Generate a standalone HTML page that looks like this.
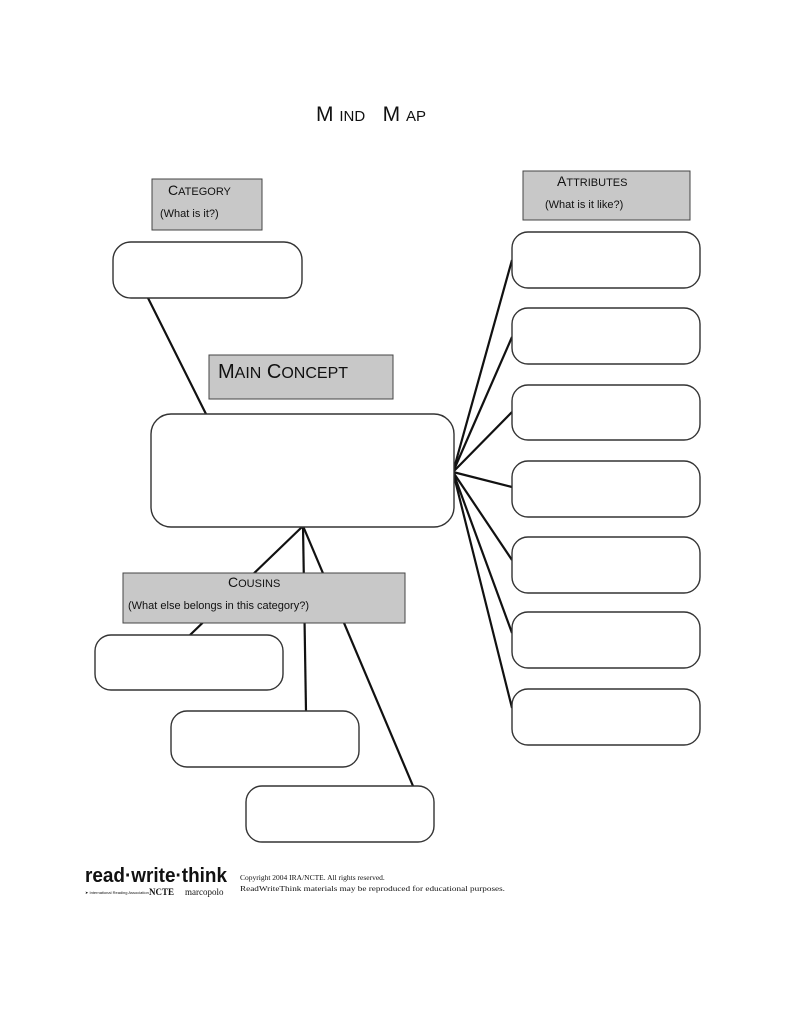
<!DOCTYPE html>
<html><head><meta charset="utf-8"><style>
html,body{margin:0;padding:0;background:#fff;}
svg{display:block;}
</style></head><body>
<svg width="811" height="1024" viewBox="0 0 811 1024" xmlns="http://www.w3.org/2000/svg" font-family="Liberation Sans, Arial, sans-serif" fill="#111">
<rect width="811" height="1024" fill="#fff"/>
<text x="316" y="121" font-size="21" xml:space="preserve">M <tspan font-size="15">IND</tspan>   M <tspan font-size="15">AP</tspan></text>
<g stroke="#111" stroke-width="2.2" fill="none">
<line x1="148" y1="298" x2="206" y2="414"/>
<line x1="453" y1="472" x2="512" y2="260"/>
<line x1="453" y1="472" x2="512" y2="337"/>
<line x1="453" y1="472" x2="512" y2="412"/>
<line x1="453" y1="472" x2="512" y2="487"/>
<line x1="453" y1="472" x2="512" y2="560"/>
<line x1="453" y1="472" x2="512" y2="633"/>
<line x1="453" y1="472" x2="512" y2="708"/>
<line x1="303" y1="526" x2="190" y2="635"/>
<line x1="303" y1="526" x2="306" y2="711"/>
<line x1="303" y1="526" x2="413" y2="786"/>
</g>
<g fill="#fff" stroke="#333" stroke-width="1.4">
<rect x="113" y="242" width="189" height="56" rx="18"/>
<rect x="151" y="414" width="303" height="113" rx="20"/>
<rect x="512" y="232" width="188" height="56" rx="16"/>
<rect x="512" y="308" width="188" height="56" rx="16"/>
<rect x="512" y="385" width="188" height="55" rx="16"/>
<rect x="512" y="461" width="188" height="56" rx="16"/>
<rect x="512" y="537" width="188" height="56" rx="16"/>
<rect x="512" y="612" width="188" height="56" rx="16"/>
<rect x="512" y="689" width="188" height="56" rx="16"/>
<rect x="95" y="635" width="188" height="55" rx="16"/>
<rect x="171" y="711" width="188" height="56" rx="16"/>
<rect x="246" y="786" width="188" height="56" rx="16"/>
</g>
<g fill="#c8c8c8" stroke="#444" stroke-width="1">
<rect x="152" y="179" width="110" height="51"/>
<rect x="523" y="171" width="167" height="49"/>
<rect x="209" y="355" width="184" height="44"/>
<rect x="123" y="573" width="282" height="50"/>
</g>
<text x="168" y="195" font-size="14">C<tspan font-size="11">ATEGORY</tspan></text>
<text x="160" y="217" font-size="11">(What is it?)</text>
<text x="557" y="186" font-size="14">A<tspan font-size="11">TTRIBUTES</tspan></text>
<text x="545" y="208" font-size="11">(What is it like?)</text>
<text x="218" y="378" font-size="20">M<tspan font-size="16">AIN</tspan> C<tspan font-size="16">ONCEPT</tspan></text>
<text x="228" y="587" font-size="14">C<tspan font-size="11">OUSINS</tspan></text>
<text x="128" y="609" font-size="11">(What else belongs in this category?)</text>
<text x="85" y="882" font-size="20" font-weight="bold" textLength="142" lengthAdjust="spacingAndGlyphs">read·write·think</text>
<text x="85" y="894" font-size="4">➤ International Reading Association</text>
<text x="149" y="895" font-size="9" font-weight="bold" font-family="Liberation Serif, serif">NCTE</text>
<text x="185" y="895" font-size="9" font-family="Liberation Serif, serif">marcopolo</text>
<text x="240" y="880" font-size="7.5" font-family="Liberation Serif, serif">Copyright 2004 IRA/NCTE. All rights reserved.</text>
<text x="240" y="891" font-size="7.5" font-family="Liberation Serif, serif" textLength="265" lengthAdjust="spacingAndGlyphs">ReadWriteThink materials may be reproduced for educational purposes.</text>
</svg>
</body></html>
